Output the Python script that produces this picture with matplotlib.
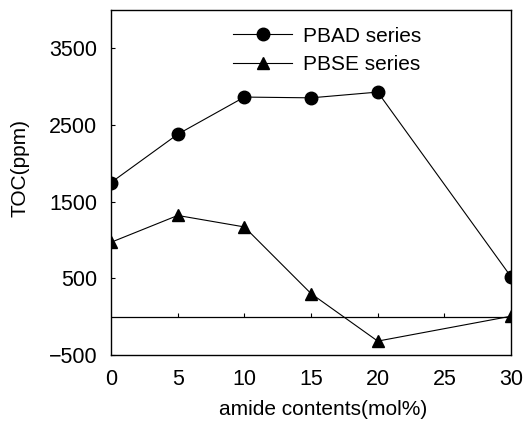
import matplotlib
matplotlib.use("Agg")
import matplotlib.pyplot as plt

# amide content (mol%) and TOC (ppm)
amide = [0, 5, 10, 15, 20, 30]
pbad_toc = [1750, 2380, 2865, 2855, 2930, 520]
pbse_toc = [970, 1320, 1170, 300, -320, 5]

xticks = [0, 5, 10, 15, 20, 25, 30]
yticks = [-500, 500, 1500, 2500, 3500]

plt.rcParams["font.family"] = ["Liberation Sans", "DejaVu Sans"]

fig = plt.figure(figsize=(5.29, 4.21), dpi=100)
ax = fig.add_axes([0.210, 0.157, 0.756, 0.819])

ax.plot(amide, pbad_toc, color="black", lw=0.8, marker="o", ms=9,
        label="PBAD series")
ax.plot(amide, pbse_toc, color="black", lw=0.8, marker="^", ms=9,
        label="PBSE series")

# zero line with small upward ticks
ax.axhline(0, color="black", lw=0.9)
ax.vlines(xticks[1:-1], 0, 45, color="black", lw=0.8)

ax.set_xlim(0, 30)
ax.set_ylim(-500, 4000)
ax.set_xticks(xticks)
ax.set_yticks(yticks)
ax.tick_params(axis="x", length=0, pad=10, labelsize=15.5)
ax.tick_params(axis="y", direction="in", length=3, pad=10, labelsize=15.5)
for s in ax.spines.values():
    s.set_linewidth(1.0)

ax.set_xlabel("amide contents(mol%)", fontsize=15)
ax.set_ylabel("TOC(ppm)", fontsize=15)
ax.xaxis.set_label_coords(0.53, -0.13)
ax.yaxis.set_label_coords(-0.203, 0.543)

ax.legend(loc="upper left", bbox_to_anchor=(0.305, 0.952), frameon=False,
          fontsize=15, handlelength=2.85, handletextpad=0.53,
          labelspacing=0.45, borderpad=0, borderaxespad=0)

fig.savefig("out.png", dpi=100)
